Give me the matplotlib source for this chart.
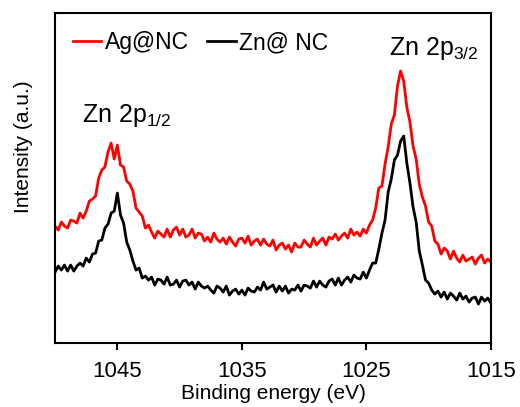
import matplotlib
matplotlib.use("Agg")
import matplotlib.pyplot as plt
import numpy as np

plt.rcParams['font.family'] = ['Liberation Sans', 'DejaVu Sans']
plt.rcParams['mathtext.default'] = 'regular'

# binding energy grid (eV), 1050 -> 1015 in 0.25 eV steps
energy = np.linspace(1050, 1015, 141)

# intensities (a.u.)
ag_nc = [117, 113, 121, 117, 115, 123, 122, 120, 130, 125,
         132, 142, 144, 147, 165, 173, 176, 191, 200, 184,
         198, 178, 176, 162, 159, 152, 135, 131, 127, 115,
         118, 111, 105, 112, 109, 106, 114, 106, 113, 116,
         108, 114, 106, 108, 114, 105, 110, 109, 102, 106,
         101, 110, 104, 101, 105, 99, 106, 101, 97, 104,
         105, 100, 107, 98, 102, 104, 98, 104, 99, 97,
         103, 93, 98, 100, 94, 98, 91, 100, 96, 96,
         103, 99, 96, 105, 98, 102, 105, 98, 106, 104,
         109, 103, 107, 110, 105, 114, 108, 111, 107, 114,
         110, 118, 123, 135, 155, 157, 179, 196, 219, 228,
         257, 272, 262, 236, 221, 197, 184, 159, 146, 137,
         121, 117, 102, 99, 89, 95, 92, 84, 92, 85,
         81, 88, 82, 84, 86, 79, 85, 88, 80, 84,
         81]

zn_nc = [71, 77, 73, 78, 72, 78, 72, 77, 80, 77,
         85, 81, 89, 90, 102, 103, 115, 119, 130, 132,
         150, 128, 120, 101, 93, 82, 73, 75, 65, 67,
         63, 66, 58, 64, 63, 59, 66, 58, 59, 63,
         56, 62, 63, 58, 61, 54, 61, 57, 55, 57,
         53, 50, 57, 55, 51, 57, 48, 52, 54, 49,
         53, 48, 55, 52, 51, 56, 53, 61, 54, 56,
         58, 51, 57, 52, 57, 50, 54, 53, 58, 52,
         58, 57, 55, 62, 56, 62, 58, 56, 62, 64,
         58, 65, 58, 63, 66, 61, 68, 65, 64, 71,
         65, 73, 80, 80, 94, 110, 123, 151, 164, 183,
         188, 202, 207, 180, 160, 136, 121, 92, 78, 63,
         60, 53, 49, 52, 46, 51, 44, 50, 47, 43,
         50, 44, 47, 41, 45, 46, 39, 46, 42, 45,
         40]

series_names = ['Ag@NC', 'Zn@ NC']
series_colors = ['#ff0000', '#000000']

fig = plt.figure(figsize=(5.2, 4.07), dpi=100)
ax = fig.add_axes([0.106, 0.157, 0.838, 0.811])

ax.plot(energy, ag_nc, color=series_colors[0], lw=2.0, label=series_names[0])
ax.plot(energy, zn_nc, color=series_colors[1], lw=2.0, label=series_names[1])

ax.set_xlim(1050, 1015)
ax.set_ylim(0, 330)
ax.set_xticks([1045, 1035, 1025, 1015])
ax.set_yticks([])
ax.tick_params(axis='x', direction='out', length=5, width=1.5, labelsize=16, pad=8)
for s in ax.spines.values():
    s.set_linewidth(1.5)

ax.set_xlabel('Binding energy (eV)', fontsize=15, labelpad=1)
ax.set_ylabel('Intensity (a.u.)', fontsize=15)
ax.yaxis.set_label_coords(-0.05, 0.594)

ax.text(1047.85, 221, 'Zn 2p$_{1/2}$', fontsize=18, ha='left', va='baseline')
ax.text(1023.2, 288, 'Zn 2p$_{3/2}$', fontsize=18, ha='left', va='baseline')

ax.legend(loc='upper left', bbox_to_anchor=(0.04, 0.945), ncol=2, frameon=False,
          fontsize=16.5, handlelength=1.25, handletextpad=0.15, columnspacing=0.8,
          borderaxespad=0, borderpad=0)

fig.savefig('out.png', dpi=100)
